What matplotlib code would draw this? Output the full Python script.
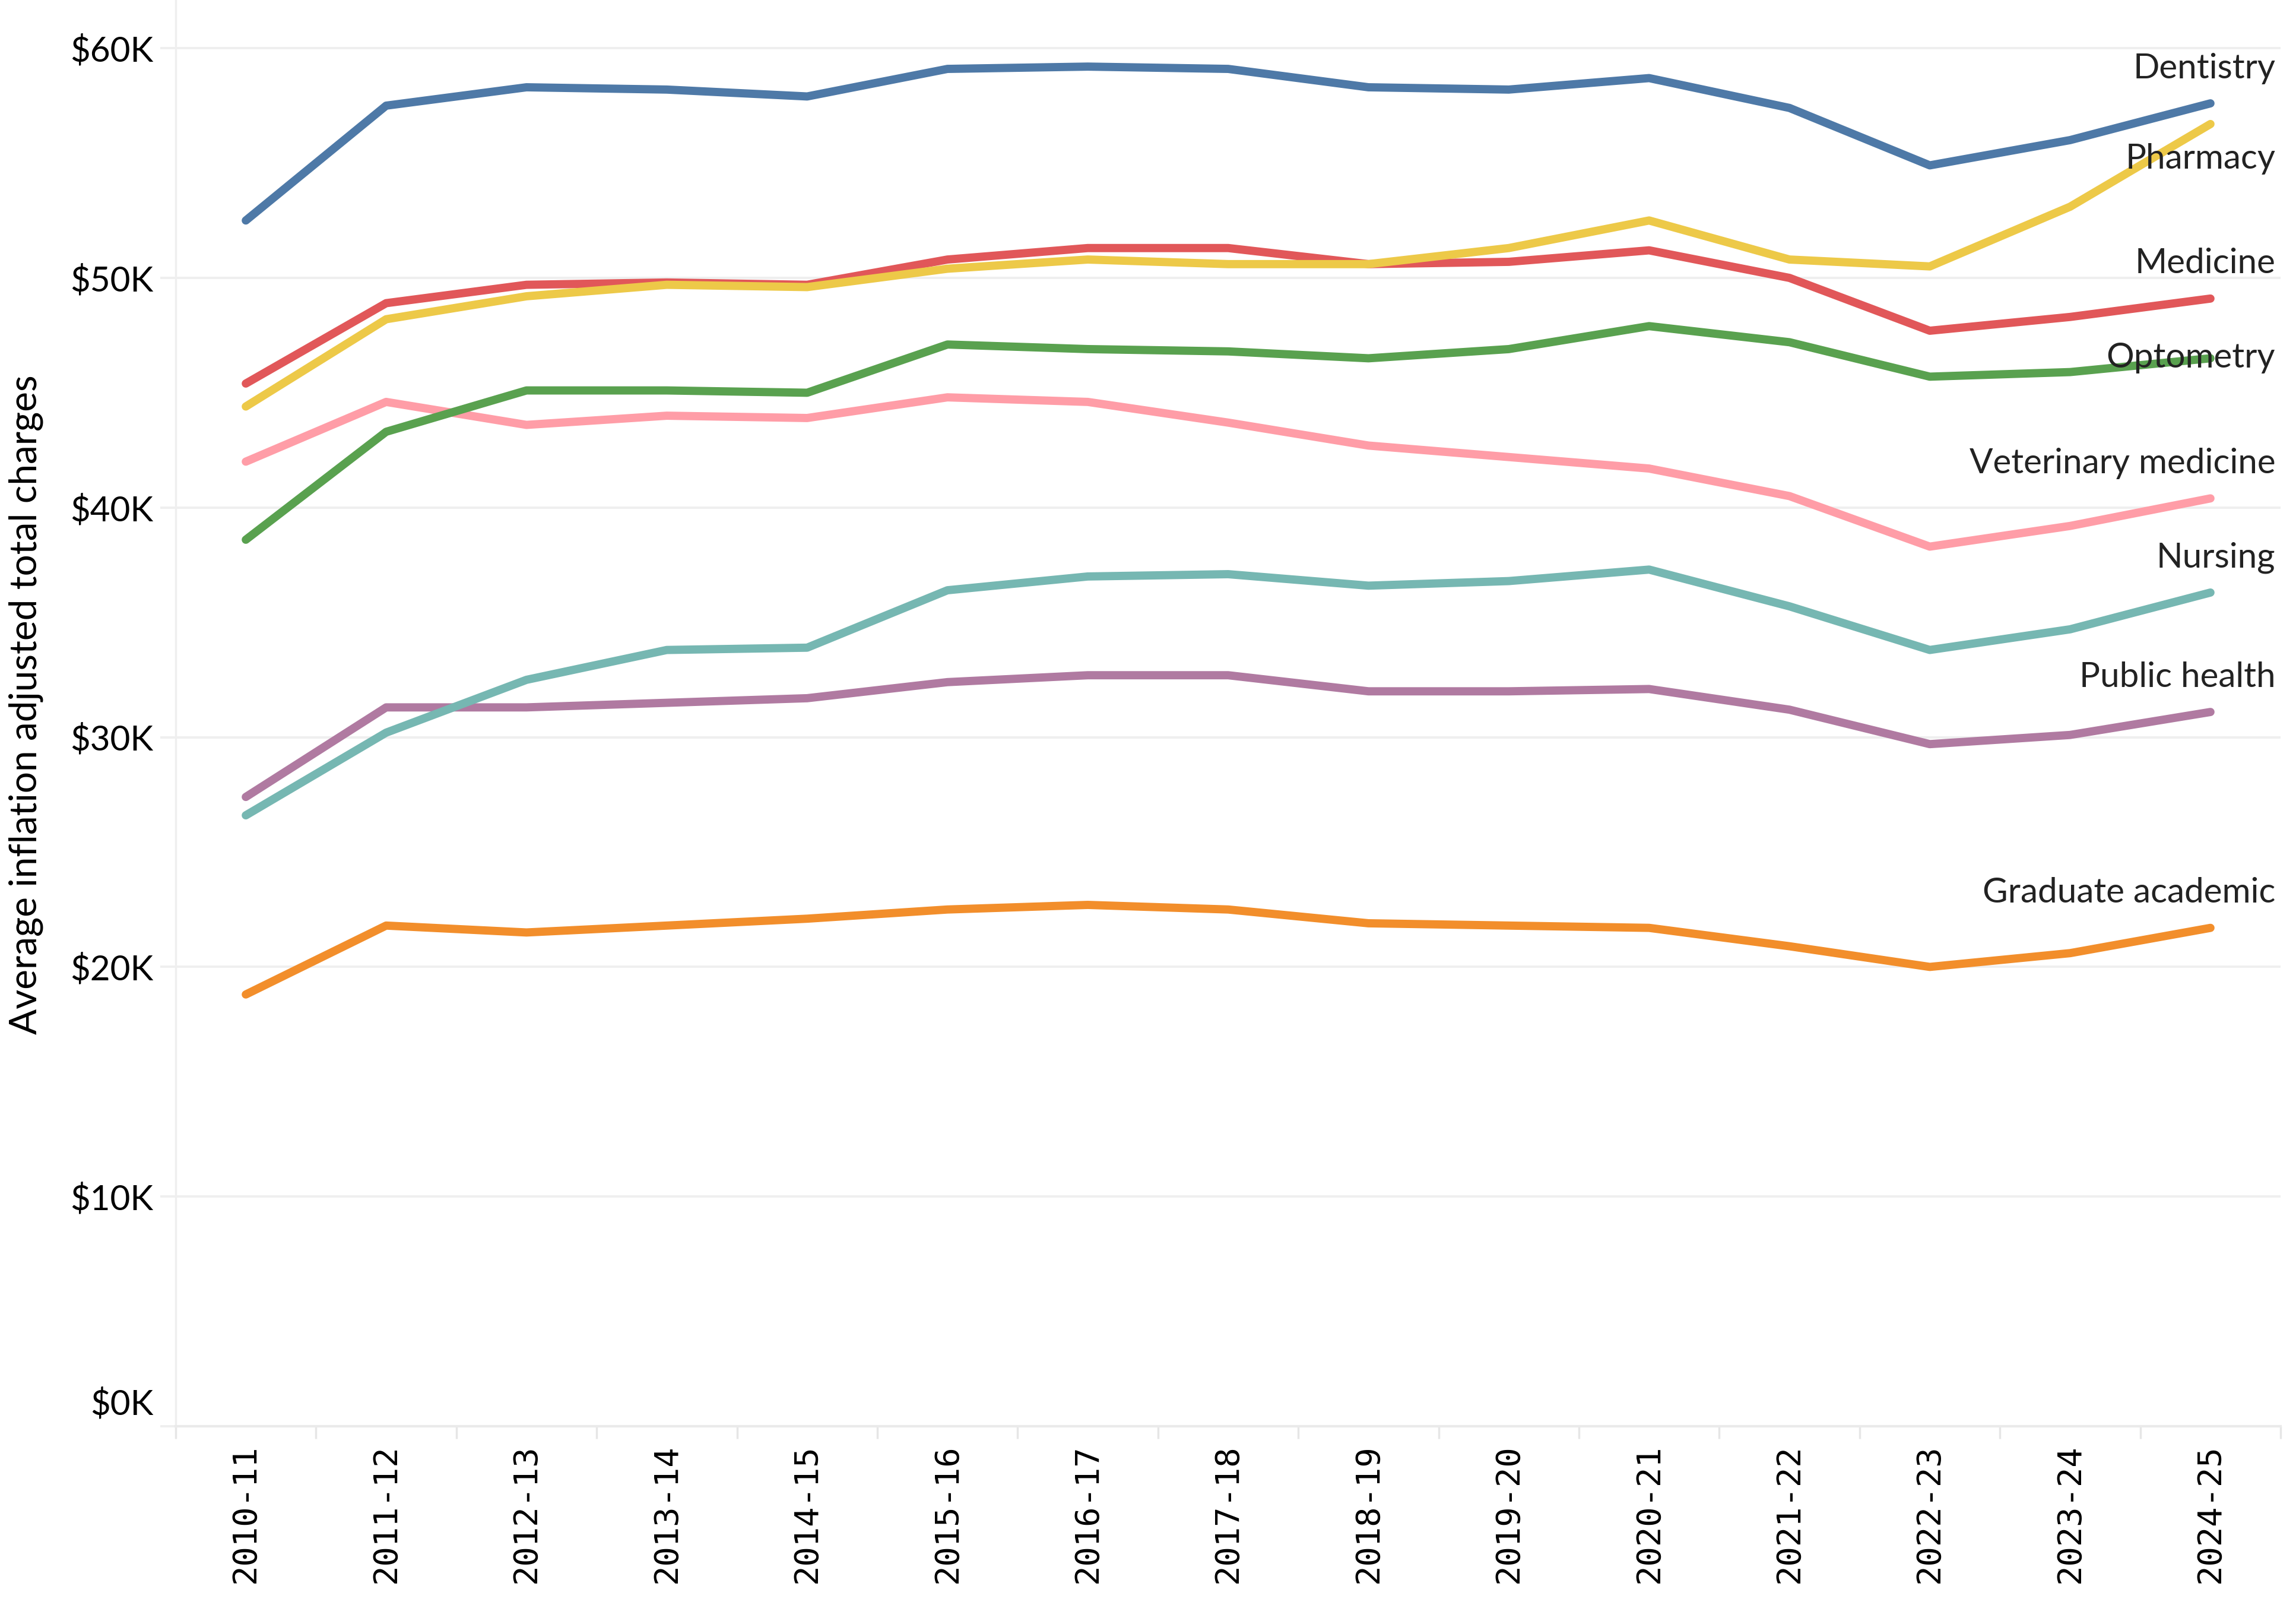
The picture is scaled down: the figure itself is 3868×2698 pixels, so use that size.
import matplotlib
matplotlib.use('Agg')
import matplotlib.pyplot as plt
from matplotlib.ticker import FixedLocator, FuncFormatter
from matplotlib.transforms import blended_transform_factory, ScaledTranslation

years = ['2010-11', '2011-12', '2012-13', '2013-14', '2014-15', '2015-16', '2016-17',
         '2017-18', '2018-19', '2019-20', '2020-21', '2021-22', '2022-23', '2023-24', '2024-25']

graduate_academic = [18800, 21800, 21500, 21800, 22100, 22500, 22700, 22500, 21900, 21800, 21700, 20900, 20000, 20600, 21700]
public_health = [27400, 31300, 31300, 31500, 31700, 32400, 32700, 32700, 32000, 32000, 32100, 31200, 29700, 30100, 31100]
nursing = [26600, 30200, 32500, 33800, 33900, 36400, 37000, 37100, 36600, 36800, 37300, 35700, 33800, 34700, 36300]
veterinary = [42000, 44600, 43600, 44000, 43900, 44800, 44600, 43700, 42700, 42200, 41700, 40500, 38300, 39200, 40400]
optometry = [38600, 43300, 45100, 45100, 45000, 47100, 46900, 46800, 46500, 46900, 47900, 47200, 45700, 45900, 46500]
medicine = [45400, 48900, 49700, 49800, 49700, 50800, 51300, 51300, 50600, 50700, 51200, 50000, 47700, 48300, 49100]
pharmacy = [44400, 48200, 49200, 49700, 49600, 50400, 50800, 50600, 50600, 51300, 52500, 50800, 50500, 53100, 56700]
dentistry = [52500, 57500, 58300, 58200, 57900, 59100, 59200, 59100, 58300, 58200, 58700, 57400, 54900, 56000, 57600]

# name, values, colour (drawn in this order)
series = [
    ('Graduate academic', graduate_academic, '#f28e2b'),
    ('Public health', public_health, '#b07aa1'),
    ('Nursing', nursing, '#76b7b2'),
    ('Veterinary medicine', veterinary, '#ff9da7'),
    ('Optometry', optometry, '#59a14f'),
    ('Medicine', medicine, '#e15759'),
    ('Pharmacy', pharmacy, '#edc948'),
    ('Dentistry', dentistry, '#4e79a7'),
]

# label baselines: default sits just above the last point, a couple are nudged
label_offset = 1100
label_override = {'Pharmacy': 54750, 'Optometry': 46100}

grid_col = '#efefef'
text_font = 'Lato'

fig = plt.figure(figsize=(38.68, 26.98), dpi=100)
ax = fig.add_axes([0.0765, 0.1097, 0.9168, 0.8903])

x = list(range(len(years)))
for name, vals, col in series:
    ax.plot(x, vals, color=col, lw=10, solid_capstyle='round', solid_joinstyle='round')

lab_tr = blended_transform_factory(ax.transAxes, ax.transData)
for name, vals, col in series:
    yb = label_override.get(name, vals[-1] + label_offset)
    ax.text(0.9975, yb, name, transform=lab_tr, ha='right', va='baseline',
            fontsize=42, family=text_font, color='#222222')

ax.set_xlim(-0.5, len(years) - 0.5)
ax.set_ylim(0, 62100)

for s in ['top', 'right']:
    ax.spines[s].set_visible(False)
ax.spines['left'].set_color(grid_col)
ax.spines['left'].set_linewidth(2.5)
ax.spines['bottom'].set_color('#eaeaea')
ax.spines['bottom'].set_linewidth(3)

yt = [0, 10000, 20000, 30000, 40000, 50000, 60000]
ax.yaxis.set_major_locator(FixedLocator(yt))
ax.yaxis.set_major_formatter(FuncFormatter(lambda v, p: '' if v == 0 else '$%dK' % (v / 1000)))
ax.grid(axis='y', color=grid_col, lw=2.8)
ax.set_axisbelow(True)
ax.tick_params(axis='y', length=19, width=2.8, color=grid_col, pad=8, labelsize=42)
for t in ax.get_yticklabels():
    t.set_fontfamily(text_font)

# zero label sits a bit above the axis line
zt = ax.text(0, 0, '$0K', transform=blended_transform_factory(ax.transAxes, ax.transData)
             + ScaledTranslation(-27 / 72, 30 / 72, fig.dpi_scale_trans),
             ha='right', va='center_baseline', fontsize=42, family=text_font)

ax.set_xticks(x)
ax.set_xticklabels(years, rotation=90, family='DejaVu Sans Mono', fontsize=40)
ax.set_xticks([i - 0.5 for i in range(len(years) + 1)], minor=True)
ax.tick_params(axis='x', which='major', length=0, pad=22)
ax.tick_params(axis='x', which='minor', length=15, width=2.5, color='#e6e6e6')

fig.text(0.0114, 0.56, 'Average inflation adjusted total charges', rotation=90,
         ha='center', va='center', fontsize=46, family=text_font)

fig.savefig('out.png', dpi=100)
plt.close(fig)
